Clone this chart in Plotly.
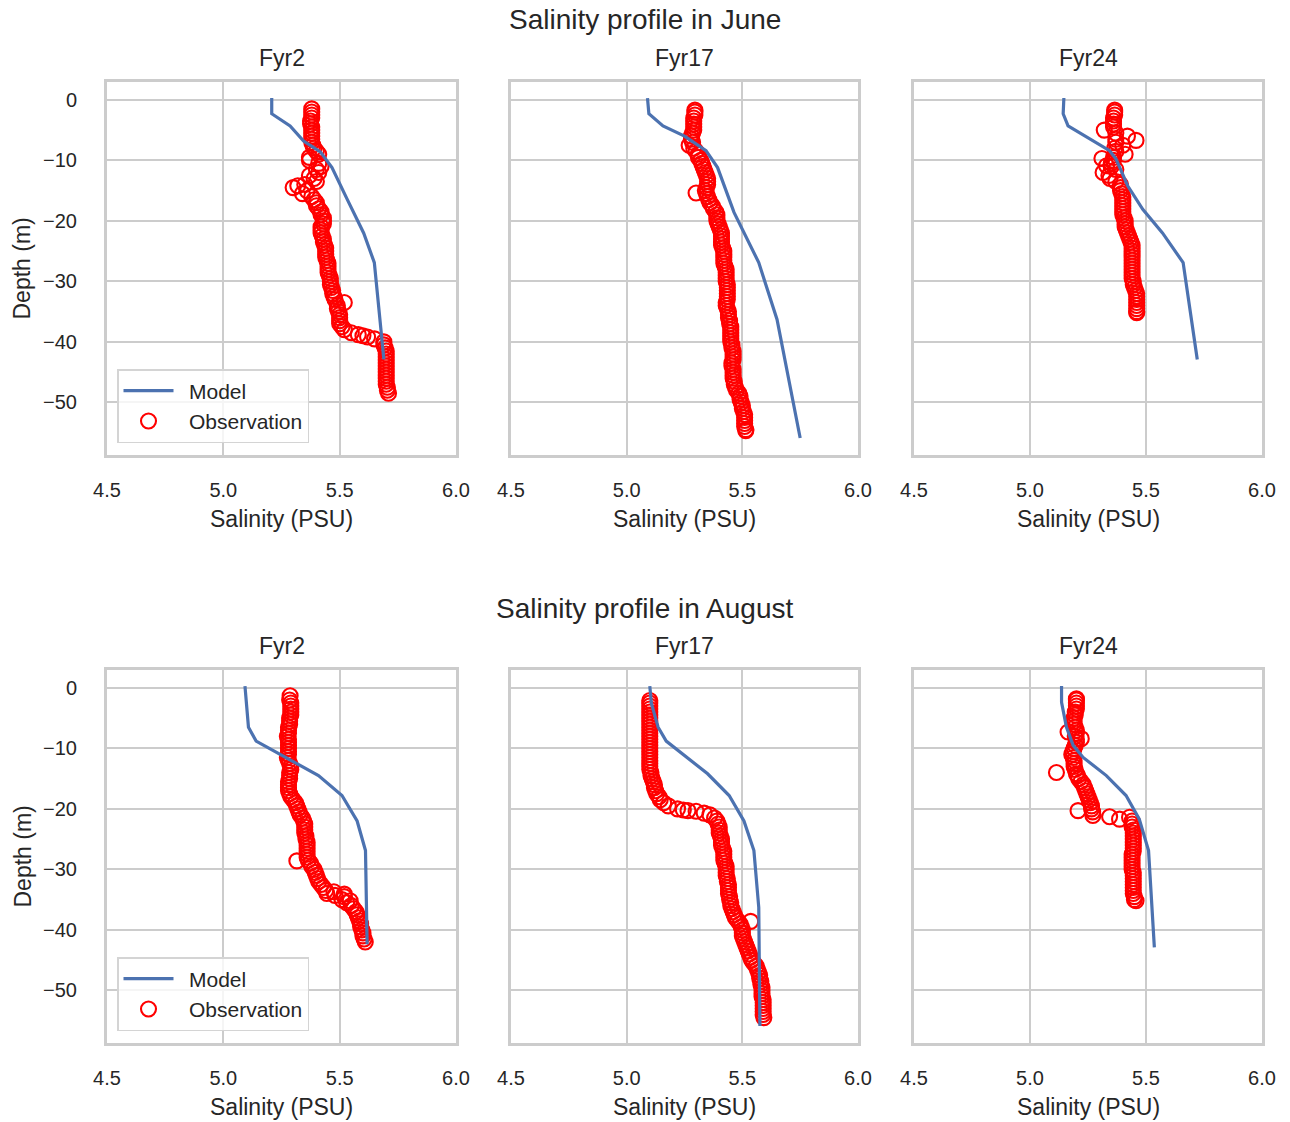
import plotly.graph_objects as go
from plotly.subplots import make_subplots

# ---------------- data ----------------
STATIONS = ["Fyr2", "Fyr17", "Fyr24"]
MONTHS = ["June", "August"]
SALINITY_TICKS = [4.5, 5.0, 5.5, 6.0]
DEPTH_TICKS = [0, -10, -20, -30, -40, -50]

# Model profiles (June)
JUN_FYR2_MOD_DEPTH = [0.3, -2.3, -4.3, -6.8, -8.6, -11.2, -16.4, -22.0, -26.9, -42.9]
JUN_FYR2_MOD_SAL = [5.208, 5.208, 5.287, 5.345, 5.417, 5.467, 5.532, 5.603, 5.649, 5.690]
JUN_FYR17_MOD_DEPTH = [0.3, -2.3, -4.3, -6.0, -8.4, -11.2, -18.6, -26.9, -36.3, -55.9]
JUN_FYR17_MOD_SAL = [5.090, 5.096, 5.157, 5.250, 5.343, 5.393, 5.464, 5.571, 5.650, 5.750]
JUN_FYR24_MOD_DEPTH = [0.3, -2.3, -4.3, -8.4, -9.8, -14.2, -18.1, -22.0, -26.9, -42.9]
JUN_FYR24_MOD_SAL = [5.146, 5.143, 5.164, 5.343, 5.371, 5.421, 5.486, 5.571, 5.660, 5.721]

# Model profiles (August)
AUG_FYR2_MOD_DEPTH = [0.3, -3.2, -6.5, -8.8, -11.0, -14.5, -17.8, -22.0, -26.9, -42.4]
AUG_FYR2_MOD_SAL = [5.093, 5.101, 5.108, 5.141, 5.244, 5.409, 5.510, 5.575, 5.611, 5.618]
AUG_FYR17_MOD_DEPTH = [0.3, -2.6, -6.5, -8.8, -14.2, -17.8, -22.0, -26.9, -36.3, -55.9]
AUG_FYR17_MOD_SAL = [5.100, 5.107, 5.136, 5.171, 5.350, 5.443, 5.507, 5.550, 5.571, 5.576]
AUG_FYR24_MOD_DEPTH = [0.3, -2.4, -6.5, -9.5, -11.5, -14.5, -17.8, -21.7, -26.9, -42.9]
AUG_FYR24_MOD_SAL = [5.136, 5.136, 5.157, 5.186, 5.229, 5.329, 5.414, 5.471, 5.511, 5.536]

# Observations (June, Fyr2)
JUN_FYR2_OBS_DEPTH = [
    -1.5, -2.0, -2.5, -3.0, -3.5, -4.0, -4.5, -5.0, -5.5, -6.0,
    -6.5, -7.0, -7.5, -8.0, -8.5, -9.0, -9.5, -10.0, -10.5, -11.0,
    -11.5, -12.0, -12.5, -13.0, -13.5, -14.0, -14.2, -14.5, -15.0, -15.5,
    -16.0, -16.5, -17.0, -17.5, -18.0, -18.5, -19.0, -19.5, -20.0, -20.5,
    -21.0, -21.5, -22.0, -22.5, -23.0, -23.5, -24.0, -24.5, -25.0, -25.5,
    -26.0, -26.5, -27.0, -27.5, -28.0, -28.5, -29.0, -29.5, -30.0, -30.5,
    -31.0, -31.5, -32.0, -32.5, -33.0, -33.5, -34.0, -34.5, -35.0, -35.5,
    -36.0, -36.5, -37.0, -37.5, -38.0, -38.5, -38.8, -39.0, -39.2, -39.5,
    -40.0, -40.5, -41.0, -41.5, -42.0, -42.5, -43.0, -43.5, -44.0, -44.5,
    -45.0, -45.5, -46.0, -46.5, -47.0, -47.5, -48.0, -48.5]
JUN_FYR2_OBS_SAL = [
    5.38, 5.38, 5.38, 5.38, 5.375, 5.375, 5.38, 5.38, 5.38, 5.38,
    5.38, 5.38, 5.385, 5.39, 5.40, 5.41, 5.37, 5.37, 5.41, 5.42,
    5.40, 5.41, 5.37, 5.39, 5.40, 5.35, 5.32, 5.30, 5.36, 5.34,
    5.38, 5.39, 5.40, 5.40, 5.41, 5.42, 5.42, 5.43, 5.43, 5.43,
    5.42, 5.42, 5.42, 5.425, 5.43, 5.43, 5.435, 5.44, 5.44, 5.44,
    5.44, 5.445, 5.45, 5.45, 5.45, 5.45, 5.455, 5.46, 5.46, 5.46,
    5.465, 5.47, 5.47, 5.475, 5.48, 5.52, 5.49, 5.49, 5.495, 5.50,
    5.50, 5.50, 5.50, 5.51, 5.52, 5.55, 5.58, 5.60, 5.62, 5.65,
    5.69, 5.69, 5.695, 5.70, 5.70, 5.70, 5.70, 5.70, 5.70, 5.70,
    5.70, 5.70, 5.70, 5.70, 5.70, 5.705, 5.705, 5.71]

# Observations (June, Fyr17)
JUN_FYR17_OBS_DEPTH = [
    -1.7, -2.0, -2.5, -3.0, -3.5, -4.0, -4.5, -5.0, -5.5, -6.0,
    -6.5, -7.0, -7.5, -8.0, -8.5, -9.0, -9.5, -10.0, -10.5, -11.0,
    -11.5, -12.0, -12.5, -13.0, -13.5, -14.0, -14.5, -15.0, -15.4, -15.5,
    -16.0, -16.5, -17.0, -17.5, -18.0, -18.5, -19.0, -19.5, -20.0, -20.5,
    -21.0, -21.5, -22.0, -22.5, -23.0, -23.5, -24.0, -24.5, -25.0, -25.5,
    -26.0, -26.5, -27.0, -27.5, -28.0, -28.5, -29.0, -29.5, -30.0, -30.5,
    -31.0, -31.5, -32.0, -32.5, -33.0, -33.5, -34.0, -34.5, -35.0, -35.5,
    -36.0, -36.5, -37.0, -37.5, -38.0, -38.5, -39.0, -39.5, -40.0, -40.5,
    -41.0, -41.5, -42.0, -42.5, -43.0, -43.5, -44.0, -44.5, -45.0, -45.5,
    -46.0, -46.5, -47.0, -47.5, -48.0, -48.5, -49.0, -49.5, -50.0, -50.5,
    -51.0, -51.5, -52.0, -52.5, -53.0, -53.5, -54.0, -54.5, -54.7]
JUN_FYR17_OBS_SAL = [
    5.295, 5.295, 5.295, 5.29, 5.29, 5.29, 5.29, 5.29, 5.285, 5.28,
    5.28, 5.285, 5.27, 5.29, 5.30, 5.31, 5.31, 5.32, 5.325, 5.33,
    5.335, 5.34, 5.345, 5.35, 5.35, 5.35, 5.345, 5.34, 5.30, 5.345,
    5.35, 5.355, 5.36, 5.37, 5.375, 5.385, 5.39, 5.39, 5.39, 5.395,
    5.40, 5.405, 5.41, 5.41, 5.41, 5.41, 5.41, 5.415, 5.42, 5.42,
    5.42, 5.42, 5.42, 5.425, 5.43, 5.43, 5.43, 5.43, 5.43, 5.435,
    5.435, 5.435, 5.435, 5.435, 5.435, 5.43, 5.43, 5.435, 5.44, 5.44,
    5.44, 5.445, 5.445, 5.45, 5.45, 5.45, 5.45, 5.45, 5.45, 5.455,
    5.455, 5.46, 5.46, 5.46, 5.46, 5.455, 5.455, 5.46, 5.46, 5.46,
    5.46, 5.465, 5.465, 5.47, 5.475, 5.485, 5.49, 5.49, 5.495, 5.50,
    5.50, 5.505, 5.51, 5.51, 5.51, 5.51, 5.51, 5.515, 5.515]

# Observations (June, Fyr24)
JUN_FYR24_OBS_DEPTH = [
    -1.7, -2.0, -2.5, -3.0, -3.5, -4.0, -4.5, -5.0, -5.5, -6.0,
    -6.5, -6.7, -7.0, -7.5, -8.0, -8.5, -9.0, -9.5, -9.7, -10.0,
    -10.5, -10.9, -11.0, -11.5, -12.0, -12.5, -13.0, -13.5, -14.0, -14.5,
    -15.0, -15.5, -16.0, -16.5, -17.0, -17.5, -18.0, -18.5, -19.0, -19.5,
    -20.0, -20.5, -21.0, -21.5, -22.0, -22.5, -23.0, -23.5, -24.0, -24.5,
    -25.0, -25.5, -26.0, -26.5, -27.0, -27.5, -28.0, -28.5, -29.0, -29.5,
    -30.0, -30.5, -31.0, -31.5, -32.0, -32.5, -33.0, -33.5, -34.0, -34.5,
    -35.0, -35.2]
JUN_FYR24_OBS_SAL = [
    5.365, 5.365, 5.365, 5.36, 5.36, 5.36, 5.36, 5.32, 5.37, 5.42,
    5.37, 5.457, 5.37, 5.40, 5.365, 5.37, 5.41, 5.36, 5.31, 5.36,
    5.35, 5.33, 5.35, 5.37, 5.315, 5.34, 5.345, 5.37, 5.39, 5.39,
    5.39, 5.395, 5.40, 5.40, 5.40, 5.40, 5.40, 5.40, 5.40, 5.405,
    5.41, 5.41, 5.41, 5.415, 5.42, 5.425, 5.43, 5.435, 5.44, 5.44,
    5.44, 5.44, 5.44, 5.44, 5.44, 5.44, 5.44, 5.44, 5.44, 5.44,
    5.445, 5.445, 5.45, 5.455, 5.46, 5.46, 5.46, 5.46, 5.46, 5.46,
    5.46, 5.46]

# Observations (August, Fyr2)
AUG_FYR2_OBS_DEPTH = [
    -1.3, -2.0, -2.5, -3.0, -3.5, -4.0, -4.5, -5.0, -5.5, -6.0,
    -6.5, -7.0, -7.5, -8.0, -8.5, -9.0, -9.5, -10.0, -10.5, -11.0,
    -11.5, -12.0, -12.5, -13.0, -13.5, -14.0, -14.5, -15.0, -15.5, -16.0,
    -16.5, -17.0, -17.5, -18.0, -18.5, -19.0, -19.5, -20.0, -20.5, -21.0,
    -21.5, -22.0, -22.5, -23.0, -23.5, -24.0, -24.5, -25.0, -25.5, -26.0,
    -26.5, -27.0, -27.5, -28.0, -28.5, -28.6, -29.0, -29.5, -30.0, -30.5,
    -31.0, -31.5, -32.0, -32.5, -33.0, -33.5, -33.7, -34.0, -34.1, -34.3,
    -34.5, -35.0, -35.2, -35.5, -36.0, -36.5, -37.0, -37.5, -38.0, -38.5,
    -39.0, -39.5, -40.0, -40.5, -41.0, -41.5, -42.0]
AUG_FYR2_OBS_SAL = [
    5.287, 5.285, 5.29, 5.29, 5.29, 5.29, 5.29, 5.285, 5.285, 5.285,
    5.28, 5.28, 5.28, 5.275, 5.28, 5.28, 5.28, 5.28, 5.28, 5.28,
    5.275, 5.28, 5.285, 5.29, 5.29, 5.285, 5.285, 5.285, 5.28, 5.28,
    5.28, 5.28, 5.285, 5.29, 5.30, 5.31, 5.315, 5.32, 5.325, 5.33,
    5.34, 5.345, 5.35, 5.35, 5.35, 5.35, 5.355, 5.355, 5.36, 5.36,
    5.36, 5.36, 5.36, 5.36, 5.365, 5.316, 5.375, 5.38, 5.39, 5.395,
    5.40, 5.405, 5.41, 5.42, 5.43, 5.44, 5.475, 5.445, 5.52, 5.48,
    5.52, 5.51, 5.545, 5.53, 5.55, 5.56, 5.57, 5.575, 5.58, 5.585,
    5.59, 5.59, 5.595, 5.60, 5.60, 5.605, 5.61]

# Observations (August, Fyr17)
AUG_FYR17_OBS_DEPTH = [
    -2.1, -2.5, -3.0, -3.5, -4.0, -4.5, -5.0, -5.5, -6.0, -6.5,
    -7.0, -7.5, -8.0, -8.5, -9.0, -9.5, -10.0, -10.5, -11.0, -11.5,
    -12.0, -12.5, -13.0, -13.5, -14.0, -14.5, -15.0, -15.5, -16.0, -16.5,
    -17.0, -17.5, -18.0, -18.5, -19.0, -19.5, -20.0, -20.2, -20.3, -20.4,
    -20.7, -21.0, -21.5, -22.0, -22.5, -23.0, -23.5, -24.0, -24.5, -25.0,
    -25.5, -26.0, -26.5, -27.0, -27.5, -28.0, -28.5, -29.0, -29.5, -30.0,
    -30.5, -31.0, -31.5, -32.0, -32.5, -33.0, -33.5, -34.0, -34.5, -35.0,
    -35.5, -36.0, -36.5, -37.0, -37.5, -38.0, -38.5, -38.6, -39.0, -39.5,
    -40.0, -40.5, -41.0, -41.5, -42.0, -42.5, -43.0, -43.5, -44.0, -44.5,
    -45.0, -45.5, -46.0, -46.5, -47.0, -47.5, -48.0, -48.5, -49.0, -49.5,
    -50.0, -50.5, -51.0, -51.5, -52.0, -52.5, -53.0, -53.5, -54.0, -54.5]
AUG_FYR17_OBS_SAL = [
    5.10, 5.10, 5.10, 5.10, 5.10, 5.10, 5.10, 5.10, 5.10, 5.10,
    5.10, 5.10, 5.10, 5.10, 5.10, 5.10, 5.10, 5.10, 5.10, 5.10,
    5.10, 5.10, 5.10, 5.10, 5.105, 5.105, 5.11, 5.115, 5.12, 5.12,
    5.125, 5.13, 5.14, 5.145, 5.16, 5.18, 5.22, 5.245, 5.265, 5.30,
    5.335, 5.36, 5.38, 5.39, 5.395, 5.40, 5.40, 5.40, 5.405, 5.41,
    5.41, 5.41, 5.415, 5.42, 5.42, 5.42, 5.42, 5.425, 5.43, 5.43,
    5.43, 5.43, 5.435, 5.435, 5.44, 5.44, 5.44, 5.44, 5.445, 5.445,
    5.45, 5.45, 5.455, 5.46, 5.465, 5.47, 5.48, 5.536, 5.49, 5.495,
    5.50, 5.50, 5.50, 5.505, 5.51, 5.515, 5.52, 5.525, 5.53, 5.535,
    5.54, 5.55, 5.56, 5.565, 5.57, 5.575, 5.575, 5.58, 5.58, 5.585,
    5.585, 5.585, 5.585, 5.59, 5.59, 5.59, 5.59, 5.59, 5.59, 5.593]

# Observations (August, Fyr24)
AUG_FYR24_OBS_DEPTH = [
    -1.8, -2.0, -2.5, -3.0, -3.5, -4.0, -4.5, -5.0, -5.5, -6.0,
    -6.5, -7.0, -7.3, -7.5, -8.0, -8.4, -8.5, -9.0, -9.5, -10.0,
    -10.5, -11.0, -11.5, -12.0, -12.5, -13.0, -13.5, -14.0, -14.2, -14.5,
    -15.0, -15.5, -16.0, -16.5, -17.0, -17.5, -18.0, -18.5, -19.0, -19.5,
    -20.0, -20.3, -20.5, -21.1, -21.3, -21.4, -21.7, -22.0, -22.5, -23.0,
    -23.5, -24.0, -24.5, -25.0, -25.5, -26.0, -26.5, -27.0, -27.5, -28.0,
    -28.5, -29.0, -29.5, -30.0, -30.5, -31.0, -31.5, -32.0, -32.5, -33.0,
    -33.5, -34.0, -34.5, -35.0, -35.2]
AUG_FYR24_OBS_SAL = [
    5.20, 5.20, 5.20, 5.20, 5.20, 5.195, 5.195, 5.19, 5.19, 5.19,
    5.195, 5.20, 5.164, 5.20, 5.195, 5.221, 5.20, 5.20, 5.195, 5.19,
    5.185, 5.18, 5.186, 5.19, 5.19, 5.19, 5.195, 5.114, 5.20, 5.205,
    5.21, 5.22, 5.23, 5.235, 5.24, 5.245, 5.25, 5.255, 5.26, 5.265,
    5.265, 5.207, 5.27, 5.271, 5.343, 5.429, 5.386, 5.44, 5.44, 5.44,
    5.445, 5.445, 5.445, 5.445, 5.445, 5.445, 5.445, 5.445, 5.44, 5.44,
    5.44, 5.44, 5.44, 5.44, 5.445, 5.445, 5.445, 5.445, 5.445, 5.445,
    5.445, 5.445, 5.45, 5.45, 5.457]

PANELS = [
    [(JUN_FYR2_MOD_SAL, JUN_FYR2_MOD_DEPTH, JUN_FYR2_OBS_SAL, JUN_FYR2_OBS_DEPTH),
     (JUN_FYR17_MOD_SAL, JUN_FYR17_MOD_DEPTH, JUN_FYR17_OBS_SAL, JUN_FYR17_OBS_DEPTH),
     (JUN_FYR24_MOD_SAL, JUN_FYR24_MOD_DEPTH, JUN_FYR24_OBS_SAL, JUN_FYR24_OBS_DEPTH)],
    [(AUG_FYR2_MOD_SAL, AUG_FYR2_MOD_DEPTH, AUG_FYR2_OBS_SAL, AUG_FYR2_OBS_DEPTH),
     (AUG_FYR17_MOD_SAL, AUG_FYR17_MOD_DEPTH, AUG_FYR17_OBS_SAL, AUG_FYR17_OBS_DEPTH),
     (AUG_FYR24_MOD_SAL, AUG_FYR24_MOD_DEPTH, AUG_FYR24_OBS_SAL, AUG_FYR24_OBS_DEPTH)],
]

# ---------------- layout ----------------
W, H = 1290, 1122
FONT = "Liberation Sans, Arial, Helvetica, sans-serif"
TXT = "#262626"
GRID = "#cccccc"
MODEL_COLOR = "#4C72B0"

COL_PX = [(107, 456), (511, 858), (914, 1262)]
ROW_PX = [(82, 455), (670, 1043)]


def px_x(v):
    return v / W


def px_y(v):
    return 1 - v / H


fig = make_subplots(rows=2, cols=3)

for r in range(2):
    legend_name = "legend" if r == 0 else "legend2"
    for c in range(3):
        ms, md, os_, od = PANELS[r][c]
        show = (c == 0)
        fig.add_trace(go.Scatter(
            x=os_, y=od, mode="markers", name="\u2002Observation",
            marker=dict(symbol="circle-open", size=15, color="red",
                        line=dict(width=2.1, color="red")),
            showlegend=show, legend=legend_name, legendrank=2,
        ), row=r + 1, col=c + 1)
        fig.add_trace(go.Scatter(
            x=ms, y=md, mode="lines", name="\u2002Model",
            line=dict(color=MODEL_COLOR, width=3.2),
            showlegend=show, legend=legend_name, legendrank=1,
        ), row=r + 1, col=c + 1)

        idx = r * 3 + c + 1
        xa = "xaxis" if idx == 1 else f"xaxis{idx}"
        ya = "yaxis" if idx == 1 else f"yaxis{idx}"
        x0, x1 = COL_PX[c]
        y0, y1 = ROW_PX[r]
        fig.layout[xa].update(
            domain=[px_x(x0), px_x(x1)], range=[4.5, 6.0], automargin=False,
            tickvals=SALINITY_TICKS, tickformat=".1f",
            showgrid=True, gridcolor=GRID, gridwidth=2,
            showline=True, mirror=True, linecolor=GRID, linewidth=3,
            zeroline=False, ticks="", ticklabelstandoff=15,
            tickfont=dict(size=20, color=TXT, family=FONT),
        )
        fig.layout[ya].update(
            domain=[px_y(y1), px_y(y0)], range=[-58.7, 2.95], automargin=False,
            tickvals=DEPTH_TICKS, showticklabels=(c == 0),
            showgrid=True, gridcolor=GRID, gridwidth=2,
            showline=True, mirror=True, linecolor=GRID, linewidth=3,
            zeroline=False, ticks="", ticklabelstandoff=23,
            tickfont=dict(size=20, color=TXT, family=FONT),
        )

annotations = []
SUPTITLE_Y = [20, 608]
SUBTITLE_Y = [58, 646]
XLABEL_Y = [519, 1107]
for r in range(2):
    annotations.append(dict(
        text=f"Salinity profile in {MONTHS[r]}", x=0.5, y=px_y(SUPTITLE_Y[r]),
        xref="paper", yref="paper", xanchor="center", yanchor="middle",
        showarrow=False, font=dict(size=28, color=TXT, family=FONT)))
    y0, y1 = ROW_PX[r]
    annotations.append(dict(
        text="Depth (m)", x=px_x(22), y=px_y((y0 + y1) / 2), textangle=-90,
        xref="paper", yref="paper", xanchor="center", yanchor="middle",
        showarrow=False, font=dict(size=23, color=TXT, family=FONT)))
    for c in range(3):
        x0, x1 = COL_PX[c]
        annotations.append(dict(
            text=STATIONS[c], x=px_x((x0 + x1) / 2), y=px_y(SUBTITLE_Y[r]),
            xref="paper", yref="paper", xanchor="center", yanchor="middle",
            showarrow=False, font=dict(size=23, color=TXT, family=FONT)))
        annotations.append(dict(
            text="Salinity (PSU)", x=px_x((x0 + x1) / 2), y=px_y(XLABEL_Y[r]),
            xref="paper", yref="paper", xanchor="center", yanchor="middle",
            showarrow=False, font=dict(size=23, color=TXT, family=FONT)))

legend_style = dict(
    xanchor="left", yanchor="bottom", bgcolor="rgba(255,255,255,0.8)",
    bordercolor="#d4d4d4", borderwidth=1.5, itemwidth=50,
    font=dict(size=21, color=TXT, family=FONT), tracegroupgap=0,
)

fig.update_layout(
    width=W, height=H, autosize=False,
    margin=dict(l=0, r=0, t=0, b=0, autoexpand=False),
    paper_bgcolor="white", plot_bgcolor="white",
    font=dict(family=FONT, color=TXT),
    annotations=annotations,
    legend=dict(x=px_x(117), y=px_y(443), **legend_style),
    legend2=dict(x=px_x(117), y=px_y(1031), **legend_style),
)

fig.write_html("out.html", config={"displayModeBar": False},
               post_script="document.body.style.margin='0';")
